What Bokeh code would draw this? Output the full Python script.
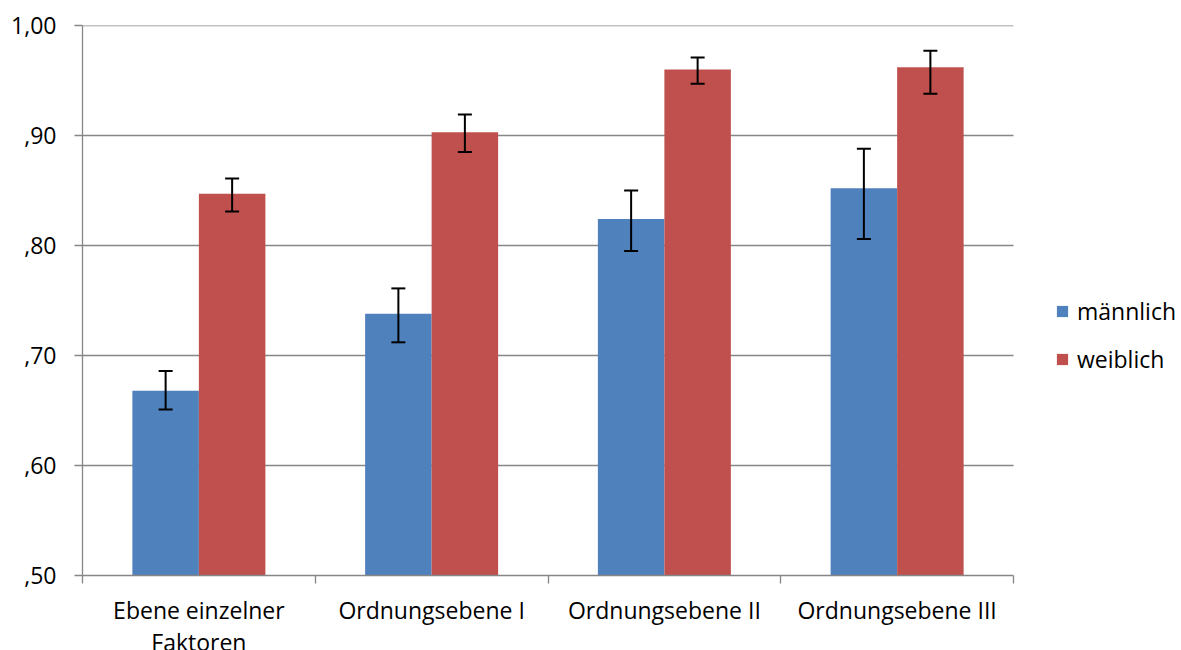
from bokeh.plotting import figure
from bokeh.models import (ColumnDataSource, FixedTicker, Whisker, TeeHead, Legend, LegendItem, Range1d)
from bokeh.embed import file_html
from bokeh.resources import INLINE

categories = ["Ebene einzelner\nFaktoren", "Ordnungsebene I", "Ordnungsebene II", "Ordnungsebene III"]
series_names = ["männlich", "weiblich"]
maennlich = [0.668, 0.738, 0.824, 0.852]
maennlich_upper = [0.686, 0.761, 0.850, 0.888]
maennlich_lower = [0.651, 0.712, 0.795, 0.806]
weiblich = [0.847, 0.903, 0.960, 0.962]
weiblich_upper = [0.861, 0.919, 0.971, 0.977]
weiblich_lower = [0.831, 0.885, 0.947, 0.938]
y_ticks = [0.5, 0.6, 0.7, 0.8, 0.9, 1.0]
y_tick_labels = [",50", ",60", ",70", ",80", ",90", "1,00"]

colors = ["#4F81BD", "#C0504D"]
GRID = "#868686"
FONT = "Open Sans"
FS = "23px"
bar_w = 1 / 3.5
n = len(categories)

plot_px = 931          # pixel width of the category area
frame_px = 1096        # frame extends to the right to host the legend
x_end = n * frame_px / plot_px

p = figure(output_backend="svg", toolbar_location=None,
           frame_width=frame_px, frame_height=550,
           min_border_left=82, min_border_top=25, min_border_bottom=72, min_border_right=0,
           x_range=Range1d(0, x_end), y_range=Range1d(0.5, 1.0))
p.outline_line_color = None
p.background_fill_color = "white"
p.border_fill_color = "white"
p.xgrid.grid_line_color = None
p.ygrid.grid_line_color = None

# horizontal gridlines restricted to the category area
gy = y_ticks[1:]
p.segment(x0=[0] * len(gy), x1=[n] * len(gy), y0=gy, y1=gy,
          line_color=GRID, line_width=1.3, level="underlay")

centers = [i + 0.5 for i in range(n)]
renderers = []
for k, (vals, up, lo) in enumerate([(maennlich, maennlich_upper, maennlich_lower),
                                     (weiblich, weiblich_upper, weiblich_lower)]):
    xs = [c + (k - 0.5) * bar_w for c in centers]
    src = ColumnDataSource(dict(x=xs, top=vals, upper=up, lower=lo))
    r = p.vbar(x="x", top="top", bottom=0.5, width=bar_w, source=src,
               fill_color=colors[k], line_color=None)
    renderers.append(r)
    w = Whisker(base="x", upper="upper", lower="lower", source=src,
                line_color="black", line_width=2, level="overlay",
                upper_head=TeeHead(size=14, line_color="black", line_width=2),
                lower_head=TeeHead(size=14, line_color="black", line_width=2))
    p.add_layout(w)

# y axis
p.yaxis.ticker = FixedTicker(ticks=y_ticks)
p.yaxis.major_label_overrides = {t: l for t, l in zip(y_ticks, y_tick_labels)}
p.yaxis.axis_line_color = GRID
p.yaxis.axis_line_width = 1.3
p.yaxis.major_tick_line_color = GRID
p.yaxis.major_tick_line_width = 1.3
p.yaxis.major_tick_out = 8
p.yaxis.major_tick_in = 0
p.yaxis.minor_tick_line_color = None
p.yaxis.major_label_standoff = 18
p.yaxis.major_label_text_font = FONT
p.yaxis.major_label_text_font_size = FS
p.yaxis.major_label_text_color = "black"

# x axis
p.xaxis.bounds = (0, n)
p.xaxis.ticker = FixedTicker(ticks=centers, minor_ticks=list(range(n + 1)))
p.xaxis.major_label_overrides = {c: l for c, l in zip(centers, categories)}
p.xaxis.axis_line_color = GRID
p.xaxis.axis_line_width = 1.3
p.xaxis.major_tick_line_color = None
p.xaxis.major_tick_out = 8
p.xaxis.minor_tick_line_color = GRID
p.xaxis.minor_tick_line_width = 1.3
p.xaxis.minor_tick_out = 8
p.xaxis.minor_tick_in = 0
p.xaxis.major_label_standoff = 10
p.xaxis.major_label_text_font = FONT
p.xaxis.major_label_text_font_size = FS
p.xaxis.major_label_text_line_height = 1.0
p.xaxis.major_label_text_color = "black"

legend = Legend(items=[LegendItem(label=series_names[i], renderers=[renderers[i]]) for i in range(2)],
                location=(973, 200))
legend.border_line_color = None
legend.background_fill_alpha = 0
legend.padding = 0
legend.margin = 0
legend.spacing = 16
legend.glyph_width = 14
legend.glyph_height = 14
legend.label_height = 20
legend.label_standoff = 8
legend.label_text_font = FONT
legend.label_text_font_size = FS
legend.label_text_color = "black"
legend.label_text_baseline = "middle"
p.add_layout(legend, "center")

open("out.html", "w").write(file_html(p, INLINE))
